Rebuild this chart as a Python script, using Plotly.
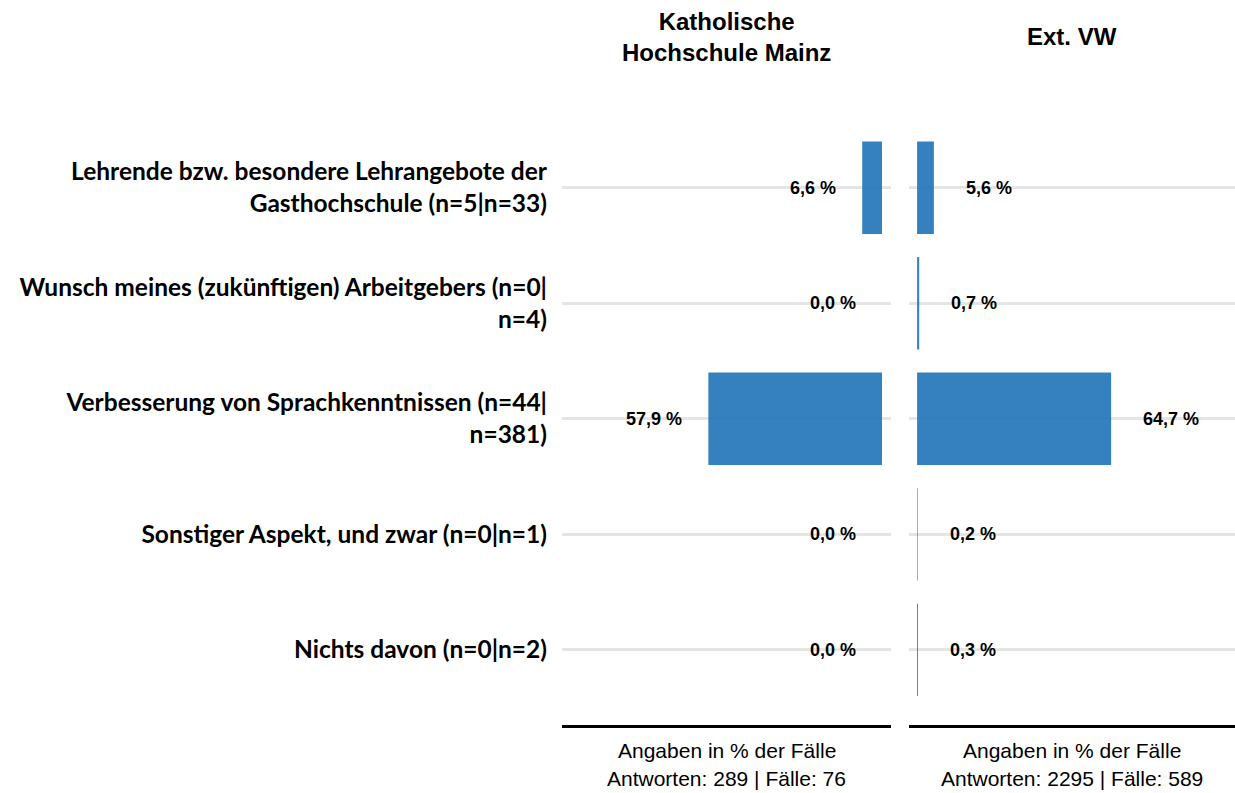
import plotly.graph_objects as go

categories = [
    "Lehrende bzw. besondere Lehrangebote der<br>Gasthochschule (n=5|n=33)",
    "Wunsch meines (zukünftigen) Arbeitgebers (n=0|<br>n=4)",
    "Verbesserung von Sprachkenntnissen (n=44|<br>n=381)",
    "Sonstiger Aspekt, und zwar (n=0|n=1)",
    "Nichts davon (n=0|n=2)",
]
values_khm = [6.6, 0.0, 57.9, 0.0, 0.0]
values_vw = [5.6, 0.7, 64.7, 0.2, 0.3]
panel_titles = ["Katholische<br>Hochschule Mainz", "Ext. VW"]
panel_footers = [
    ["Angaben in % der Fälle", "Antworten: 289 | Fälle: 76"],
    ["Angaben in % der Fälle", "Antworten: 2295 | Fälle: 589"],
]

BAR = "rgba(31,114,184,0.9)"
W, H = 1235, 793
T, B = 130, 68
PH = H - T - B
dom1 = [562 / W, 891 / W]
dom2 = [909 / W, 1.0]


def py(px):
    """pixel row -> paper y (relative to plot area)"""
    return (H - B - px) / PH


def fmt(v):
    return f"{v:.1f}".replace(".", ",") + " %"


fig = go.Figure()
fig.add_trace(go.Bar(y=categories, x=values_khm, orientation="h", xaxis="x", yaxis="y",
                     marker=dict(color=BAR, line=dict(width=0)), width=0.8, showlegend=False))
fig.add_trace(go.Bar(y=categories, x=values_vw, orientation="h", xaxis="x2", yaxis="y2",
                     marker=dict(color=BAR, line=dict(width=0)), width=0.8, showlegend=False))

ann = []
lab_font = dict(family="Liberation Sans, Arial", size=18, color="#000000")
for c, v in zip(categories, values_khm):
    ann.append(dict(x=v + 8, y=c, xref="x", yref="y", text="<b>" + fmt(v) + "</b>",
                    showarrow=False, xanchor="right", yanchor="middle", font=lab_font))
for c, v in zip(categories, values_vw):
    ann.append(dict(x=v + 10, y=c, xref="x2", yref="y2", text="<b>" + fmt(v) + "</b>",
                    showarrow=False, xanchor="left", yanchor="middle", font=lab_font))

title_font = dict(family="Liberation Sans, Arial", size=24, color="#000000")
for dom, t in zip([dom1, dom2], panel_titles):
    ann.append(dict(x=(dom[0] + dom[1]) / 2, y=py(37), xref="paper", yref="paper",
                    xanchor="center", yanchor="middle", text="<b>" + t + "</b>",
                    showarrow=False, font=title_font))

foot_font = dict(family="Liberation Sans, Arial", size=21, color="#000000")
for dom, lines in zip([dom1, dom2], panel_footers):
    for i, line in enumerate(lines):
        ann.append(dict(x=(dom[0] + dom[1]) / 2, y=py(750 + 29 * i),
                        xref="paper", yref="paper", xanchor="center", yanchor="middle",
                        text=line, showarrow=False, font=foot_font))

xcommon = dict(showgrid=False, zeroline=False, showticklabels=False, ticks="",
               showline=True, linecolor="#000000", linewidth=3, fixedrange=True)
ycommon = dict(showgrid=True, gridcolor="#e5e5e5", gridwidth=3, zeroline=False,
               ticks="", range=[4.65, -0.5], type="category",
               categoryorder="array", categoryarray=categories, showline=False)

fig.update_layout(
    width=W, height=H,
    margin=dict(l=0, r=0, t=T, b=B),
    plot_bgcolor="#ffffff", paper_bgcolor="#ffffff",
    bargap=0.2,
    xaxis=dict(domain=dom1, range=[106.7, -3.0], anchor="y", **xcommon),
    xaxis2=dict(domain=dom2, range=[-2.7, 106.0], anchor="y2", **xcommon),
    yaxis=dict(anchor="x", showticklabels=True, ticklabelstandoff=14,
               tickfont=dict(family="Lato", size=24.5, color="#000000"),
               tickvals=categories, ticktext=["<b>" + c + "</b>" for c in categories],
               **ycommon),
    yaxis2=dict(anchor="x2", showticklabels=False, **ycommon),
    annotations=ann,
)

fig.write_html("out.html", config={"displayModeBar": False},
               post_script="document.body.style.margin='0';")
